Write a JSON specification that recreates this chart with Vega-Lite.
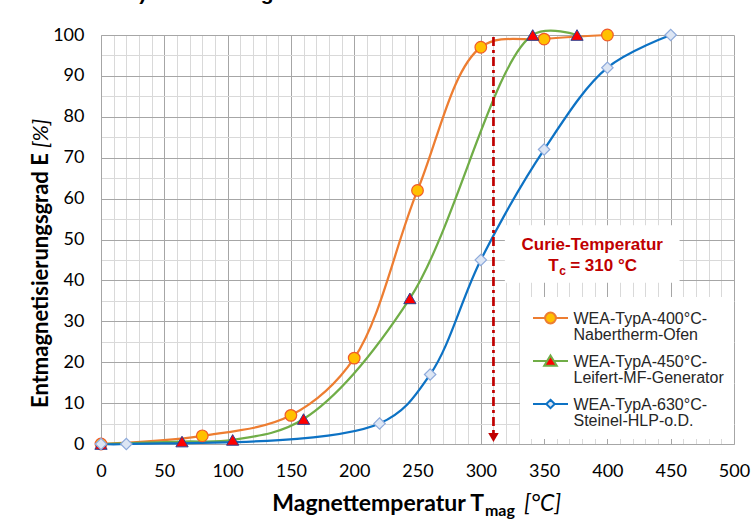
{
  "$schema": "https://vega.github.io/schema/vega-lite/v6.json",
  "width": 633,
  "height": 409,
  "autosize": "none",
  "padding": {"left": 101, "top": 35, "right": 19, "bottom": 77},
  "background": "white",
  "title": {"text": "r. 12 – Abb. 11) zusammengefasst.", "anchor": "start", "frame": "group", "dx": -101, "offset": 5, "baseline": "alphabetic", "font": "Liberation Sans", "fontSize": 21, "fontWeight": "bold", "color": "#000000"},
  "config": {
    "view": {"stroke": null},
    "axis": {"labelFont": "Lato", "labelFontSize": 18, "labelColor": "#000000", "domainColor": "#a6a6a6", "gridColor": "#a6a6a6", "ticks": false, "title": null, "labelOverlap": false, "labelFlush": false}
  },
  "data": {"values": [
    {"series": "WEA-TypA-400°C-|Nabertherm-Ofen", "T": 0, "E": 0},
    {"series": "WEA-TypA-400°C-|Nabertherm-Ofen", "T": 80, "E": 2},
    {"series": "WEA-TypA-400°C-|Nabertherm-Ofen", "T": 150, "E": 7},
    {"series": "WEA-TypA-400°C-|Nabertherm-Ofen", "T": 200, "E": 21},
    {"series": "WEA-TypA-400°C-|Nabertherm-Ofen", "T": 250, "E": 62},
    {"series": "WEA-TypA-400°C-|Nabertherm-Ofen", "T": 300, "E": 97},
    {"series": "WEA-TypA-400°C-|Nabertherm-Ofen", "T": 350, "E": 99},
    {"series": "WEA-TypA-400°C-|Nabertherm-Ofen", "T": 400, "E": 100},
    {"series": "WEA-TypA-450°C-|Leifert-MF-Generator", "T": 0, "E": 0},
    {"series": "WEA-TypA-450°C-|Leifert-MF-Generator", "T": 64, "E": 0.6},
    {"series": "WEA-TypA-450°C-|Leifert-MF-Generator", "T": 104, "E": 1},
    {"series": "WEA-TypA-450°C-|Leifert-MF-Generator", "T": 160, "E": 6.1},
    {"series": "WEA-TypA-450°C-|Leifert-MF-Generator", "T": 244, "E": 35.6},
    {"series": "WEA-TypA-450°C-|Leifert-MF-Generator", "T": 341, "E": 100},
    {"series": "WEA-TypA-450°C-|Leifert-MF-Generator", "T": 376, "E": 100},
    {"series": "WEA-TypA-630°C-|Steinel-HLP-o.D.", "T": 0, "E": 0},
    {"series": "WEA-TypA-630°C-|Steinel-HLP-o.D.", "T": 20, "E": 0},
    {"series": "WEA-TypA-630°C-|Steinel-HLP-o.D.", "T": 220, "E": 5},
    {"series": "WEA-TypA-630°C-|Steinel-HLP-o.D.", "T": 260, "E": 17},
    {"series": "WEA-TypA-630°C-|Steinel-HLP-o.D.", "T": 300, "E": 45},
    {"series": "WEA-TypA-630°C-|Steinel-HLP-o.D.", "T": 350, "E": 72},
    {"series": "WEA-TypA-630°C-|Steinel-HLP-o.D.", "T": 400, "E": 92},
    {"series": "WEA-TypA-630°C-|Steinel-HLP-o.D.", "T": 450, "E": 100}
  ]},
  "layer": [
    {
      "mark": {"type": "line", "interpolate": "catmull-rom", "strokeWidth": 2.25},
      "encoding": {
        "x": {"field": "T", "type": "quantitative", "scale": {"domain": [0, 500], "nice": false, "zero": false},
              "axis": {"orient": "top", "values": [10,20,30,40,60,70,80,90,110,120,130,140,160,170,180,190,210,220,230,240,260,270,280,290,310,320,330,340,360,370,380,390,410,420,430,440,460,470,480,490], "labels": false, "domain": false, "ticks": false, "grid": true, "gridColor": "#d9d9d9", "title": null}},
        "y": {"field": "E", "type": "quantitative", "scale": {"domain": [0, 100], "nice": false, "zero": false},
              "axis": {"orient": "right", "values": [5,15,25,35,45,55,65,75,85,95], "labels": false, "domain": false, "ticks": false, "grid": true, "gridColor": "#d9d9d9", "title": null}},
        "stroke": {"field": "series", "type": "nominal",
                   "scale": {"domain": ["WEA-TypA-400°C-|Nabertherm-Ofen", "WEA-TypA-450°C-|Leifert-MF-Generator", "WEA-TypA-630°C-|Steinel-HLP-o.D."], "range": ["#ed7d31", "#70ad47", "#0d72c4"]},
                   "legend": {
                     "orient": "none", "legendX": 419, "legendY": 262, "title": null,
                     "fillColor": "#ffffff", "padding": 10,
                     "labelFont": "Liberation Sans", "labelFontSize": 16, "labelColor": "#262626",
                     "labelExpr": "split(datum.label, '|')", "labelLimit": 400, "labelOffset": 12,
                     "labelBaseline": "top",
                     "symbolSize": 400, "symbolStrokeWidth": 2, "symbolOffset": 9.5, "rowPadding": 7,
                     "encoding": {
                       "symbols": {
                         "shape": {"value": {"expr": "datum.index == 0 ? 'M-1.75,0H-0.56M0.56,0H1.75M0.54,0A0.54,0.54,0,1,1,-0.54,0A0.54,0.54,0,1,1,0.54,0Z' : datum.index == 1 ? 'M-1.75,0H-0.35M0.35,0H1.75M0,-0.56L0.63,0.47L-0.63,0.47Z' : 'M-1.75,0H-0.42M0.42,0H1.75M0,-0.42L0.42,0L0,0.42L-0.42,0Z'"}},
                         "fill": {"value": {"expr": "datum.index == 0 ? '#ffc000' : datum.index == 1 ? '#ff0000' : '#dde6f4'"}},
                         "fillOpacity": {"value": 1},
                         "opacity": {"value": 1}
                       },
                       "labels": {
                         "lineHeight": {"value": 16},
                         "dy": {"value": -7}
                       }
                     }
                   }}
      }
    },
    {
      "transform": [{"filter": {"field": "series", "equal": "WEA-TypA-400°C-|Nabertherm-Ofen"}}],
      "mark": {"type": "point", "shape": "circle", "filled": true, "fill": "#ffc000", "stroke": "#f05a28", "strokeWidth": 1.2, "size": 135, "opacity": 1},
      "encoding": {
        "x": {"field": "T", "type": "quantitative",
              "axis": {"orient": "bottom", "values": [0,50,100,150,200,250,300,350,400,450,500], "grid": true, "labelPadding": 18, "domain": true}},
        "y": {"field": "E", "type": "quantitative",
              "axis": {"orient": "left", "values": [0,10,20,30,40,50,60,70,80,90,100], "grid": true, "labelPadding": 17, "domain": true}}
      }
    },
    {
      "transform": [{"filter": {"field": "series", "equal": "WEA-TypA-450°C-|Leifert-MF-Generator"}}],
      "mark": {"type": "point", "shape": "triangle-up", "filled": true, "fill": "#ff0000", "stroke": "#2f3f8f", "strokeWidth": 1, "size": 150, "opacity": 1},
      "encoding": {
        "x": {"field": "T", "type": "quantitative", "axis": null},
        "y": {"field": "E", "type": "quantitative", "axis": null}
      }
    },
    {
      "transform": [{"filter": {"field": "series", "equal": "WEA-TypA-630°C-|Steinel-HLP-o.D."}}],
      "mark": {"type": "point", "shape": "diamond", "filled": true, "fill": "#dde6f4", "stroke": "#8eaadb", "strokeWidth": 1.2, "size": 130, "opacity": 1},
      "encoding": {
        "x": {"field": "T", "type": "quantitative", "axis": null},
        "y": {"field": "E", "type": "quantitative", "axis": null}
      }
    },
    {
      "data": {"values": [{}]},
      "mark": {"type": "rule", "color": "#c00000", "strokeWidth": 2.7, "strokeDash": [9, 4, 3, 4]},
      "encoding": {
        "x": {"datum": 310, "type": "quantitative", "axis": null},
        "y": {"datum": 99.5, "type": "quantitative", "axis": null},
        "y2": {"datum": 2.5}
      }
    },
    {
      "data": {"values": [{}]},
      "mark": {"type": "point", "shape": "triangle-down", "filled": true, "color": "#c00000", "size": 110, "opacity": 1},
      "encoding": {
        "x": {"datum": 310, "type": "quantitative", "axis": null},
        "y": {"datum": 1.6, "type": "quantitative", "axis": null}
      }
    },
    {
      "data": {"values": [{}]},
      "mark": {"type": "rect", "fill": "#ffffff"},
      "encoding": {
        "x": {"datum": 319, "type": "quantitative", "axis": null},
        "x2": {"datum": 457},
        "y": {"datum": 53.5, "type": "quantitative", "axis": null},
        "y2": {"datum": 39.4}
      }
    },
    {
      "data": {"values": [{}]},
      "mark": {"type": "text", "text": "Curie-Temperatur", "font": "Liberation Sans", "fontSize": 17, "fontWeight": "bold", "color": "#c00000", "align": "center", "baseline": "middle"},
      "encoding": {
        "x": {"datum": 388, "type": "quantitative", "axis": null},
        "y": {"datum": 48.7, "type": "quantitative", "axis": null}
      }
    },
    {
      "data": {"values": [{}]},
      "mark": {"type": "text", "text": "T", "font": "Liberation Sans", "fontSize": 17, "fontWeight": "bold", "color": "#c00000", "align": "left", "baseline": "middle", "dx": -44},
      "encoding": {
        "x": {"datum": 388, "type": "quantitative", "axis": null},
        "y": {"datum": 43.6, "type": "quantitative", "axis": null}
      }
    },
    {
      "data": {"values": [{}]},
      "mark": {"type": "text", "text": "c", "font": "Liberation Sans", "fontSize": 12, "fontWeight": "bold", "color": "#c00000", "align": "left", "baseline": "middle", "dx": -33, "dy": 5},
      "encoding": {
        "x": {"datum": 388, "type": "quantitative", "axis": null},
        "y": {"datum": 43.6, "type": "quantitative", "axis": null}
      }
    },
    {
      "data": {"values": [{}]},
      "mark": {"type": "text", "text": "= 310 °C", "font": "Liberation Sans", "fontSize": 17, "fontWeight": "bold", "color": "#c00000", "align": "left", "baseline": "middle", "dx": -22},
      "encoding": {
        "x": {"datum": 388, "type": "quantitative", "axis": null},
        "y": {"datum": 43.6, "type": "quantitative", "axis": null}
      }
    },
    {
      "data": {"values": [{}]},
      "mark": {"type": "text", "text": "Magnettemperatur T", "font": "Lato", "fontSize": 23, "fontWeight": "bold", "color": "#000000", "align": "right", "baseline": "alphabetic"},
      "encoding": {
        "x": {"datum": 302.5, "type": "quantitative", "axis": null},
        "y": {"datum": -16.4, "type": "quantitative", "axis": null}
      }
    },
    {
      "data": {"values": [{}]},
      "mark": {"type": "text", "text": "mag", "font": "Lato", "fontSize": 16, "fontWeight": "bold", "color": "#000000", "align": "left", "baseline": "alphabetic", "dx": 1, "dy": 5},
      "encoding": {
        "x": {"datum": 302.5, "type": "quantitative", "axis": null},
        "y": {"datum": -16.4, "type": "quantitative", "axis": null}
      }
    },
    {
      "data": {"values": [{}]},
      "mark": {"type": "text", "text": "[°C]", "font": "Lato", "fontSize": 23, "fontStyle": "italic", "color": "#000000", "align": "left", "baseline": "alphabetic"},
      "encoding": {
        "x": {"datum": 334.1, "type": "quantitative", "axis": null},
        "y": {"datum": -16.4, "type": "quantitative", "axis": null}
      }
    },
    {
      "data": {"values": [{}]},
      "mark": {"type": "text", "text": "Entmagnetisierungsgrad E", "font": "Lato", "fontSize": 22, "fontWeight": "bold", "color": "#000000", "align": "right", "baseline": "alphabetic", "angle": 270},
      "encoding": {
        "x": {"datum": -41.9, "type": "quantitative", "axis": null},
        "y": {"datum": 71.1, "type": "quantitative", "axis": null}
      }
    },
    {
      "data": {"values": [{}]},
      "mark": {"type": "text", "text": "[%]", "font": "Lato", "fontSize": 22, "fontStyle": "italic", "color": "#000000", "align": "left", "baseline": "alphabetic", "angle": 270},
      "encoding": {
        "x": {"datum": -41.9, "type": "quantitative", "axis": null},
        "y": {"datum": 72.4, "type": "quantitative", "axis": null}
      }
    }
  ],
  "resolve": {"axis": {"x": "independent", "y": "independent"}}
}
